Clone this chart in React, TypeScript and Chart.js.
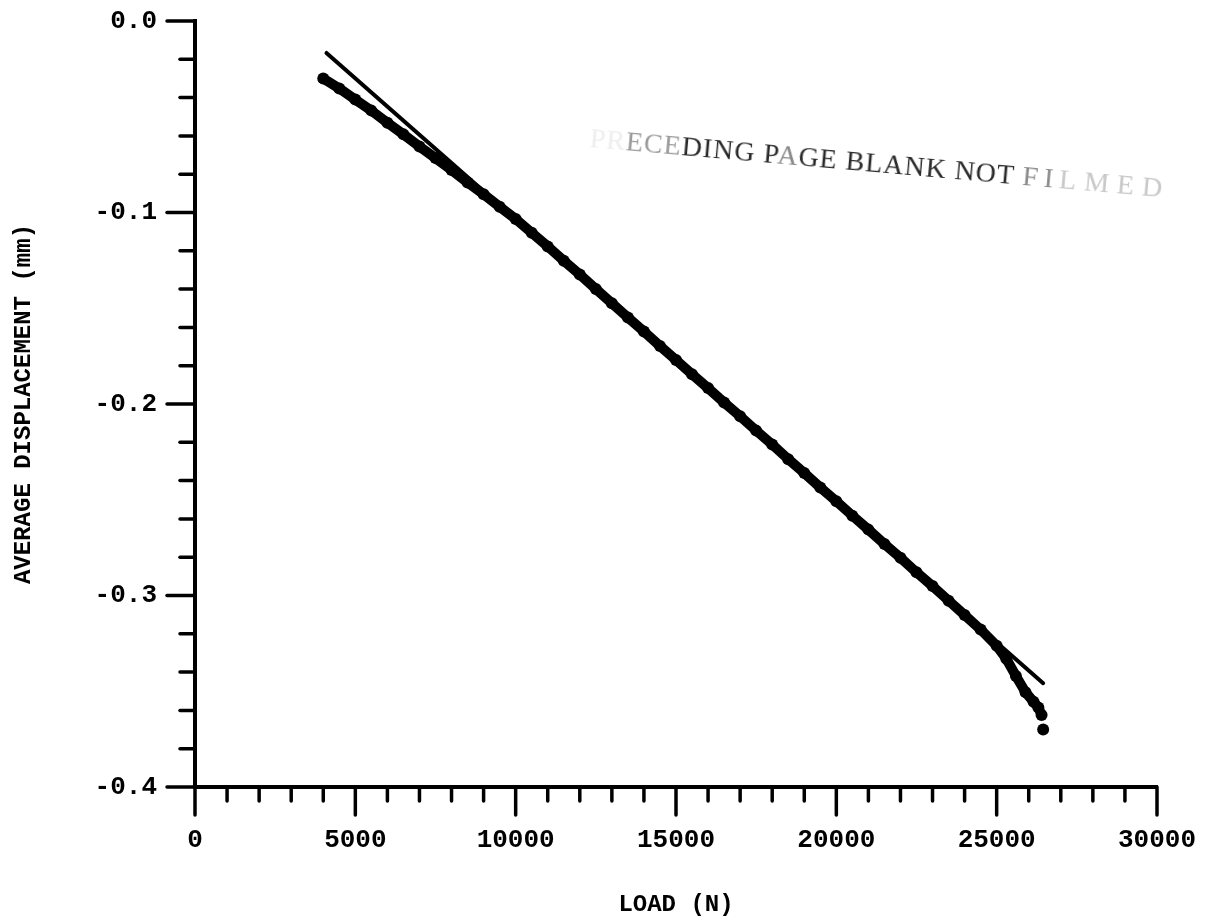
import { useEffect, useRef } from 'react';
import { Chart, registerables } from 'chart.js';

Chart.register(...registerables);

// Measured load / average displacement record
const measuredLoad = [
  4000, 4500, 5000, 5500, 6000, 6500, 7000, 7500, 8000, 8500, 9000, 9500,
  10000, 10500, 11000, 11500, 12000, 12500, 13000, 13500, 14000, 14500,
  15000, 15500, 16000, 16500, 17000, 17500, 18000, 18500, 19000, 19500,
  20000, 20500, 21000, 21500, 22000, 22500, 23000, 23500, 24000, 24500,
  25000, 25300, 25600, 25900, 26150, 26300, 26400, 26450,
];
const measuredDisp = [
  -0.03, -0.0352, -0.041, -0.0468, -0.0531, -0.0592, -0.0655, -0.0716,
  -0.0778, -0.0843, -0.0905, -0.097, -0.1034, -0.1106, -0.1177, -0.1252,
  -0.1324, -0.1399, -0.1474, -0.1548, -0.1622, -0.1697, -0.177, -0.1845,
  -0.1917, -0.1992, -0.2064, -0.2139, -0.2212, -0.2288, -0.236, -0.2436,
  -0.2508, -0.2583, -0.2656, -0.2731, -0.2803, -0.2879, -0.2951, -0.3027,
  -0.3102, -0.3178, -0.3262, -0.333, -0.342, -0.3505, -0.3555, -0.3585,
  -0.3624, -0.37,
];

// Straight-line fit through the record
const fitLoad = [4100, 26450];
const fitDisp = [-0.0167, -0.3458];

// Axis ticks and labels
const xTickLabels = ['0', '5000', '10000', '15000', '20000', '25000', '30000'];
const yTickLabels = ['-0.4', '-0.3', '-0.2', '-0.1', '0.0'];
const xMin = 0, xMax = 30000, xMajor = 5000, xMinor = 1000;
const yMin = -0.4, yMax = 0, yMajor = 0.1, yMinor = 0.02;

const MONO = '"Liberation Mono", "DejaVu Sans Mono", monospace';

// Outward tick marks: long at labelled values, short in between
const tickMarks = {
  id: 'tickMarks',
  afterDraw(chart: any) {
    const { ctx, scales } = chart;
    const xs = scales.x;
    const ys = scales.y;
    const axisY = ys.getPixelForValue(yMin);
    const axisX = xs.getPixelForValue(xMin);
    ctx.save();
    ctx.strokeStyle = '#000';
    ctx.lineWidth = 3.5;
    ctx.lineCap = 'round';
    const nx = Math.round((xMax - xMin) / xMinor);
    const xEvery = Math.round(xMajor / xMinor);
    for (let i = 0; i <= nx; i++) {
      const px = xs.getPixelForValue(xMin + i * xMinor);
      const len = i % xEvery === 0 ? 28 : 14;
      ctx.beginPath();
      ctx.moveTo(px, axisY);
      ctx.lineTo(px, axisY + len);
      ctx.stroke();
    }
    const ny = Math.round((yMax - yMin) / yMinor);
    const yEvery = Math.round(yMajor / yMinor);
    for (let i = 0; i <= ny; i++) {
      const py = ys.getPixelForValue(yMin + i * yMinor);
      const len = i % yEvery === 0 ? 28 : 15;
      ctx.beginPath();
      ctx.moveTo(axisX, py);
      ctx.lineTo(axisX - len, py);
      ctx.stroke();
    }
    ctx.restore();
  },
};

export default function App() {
  const canvasRef = useRef<HTMLCanvasElement | null>(null);

  useEffect(() => {
    const canvas = canvasRef.current;
    if (!canvas) return;
    const lastIdx = measuredLoad.length - 1;
    const chart = new Chart(canvas, {
      type: 'scatter',
      data: {
        datasets: [
          {
            label: 'Measured',
            data: measuredLoad.map((x, i) => ({ x, y: measuredDisp[i] })),
            showLine: true,
            borderColor: '#000',
            backgroundColor: '#000',
            borderWidth: 10,
            pointRadius: 6,
            pointBorderWidth: 0,
            pointHoverRadius: 0,
            borderCapStyle: 'round',
            borderJoinStyle: 'round',
            segment: {
              borderColor: (c: any) => (c.p1DataIndex === lastIdx ? 'rgba(0,0,0,0)' : '#000'),
            },
          },
          {
            label: 'Fit',
            data: fitLoad.map((x, i) => ({ x, y: fitDisp[i] })),
            showLine: true,
            borderColor: '#000',
            borderWidth: 4,
            pointRadius: 0,
            pointHoverRadius: 0,
            borderCapStyle: 'round',
          },
        ],
      },
      options: {
        responsive: false,
        animation: false,
        devicePixelRatio: 1,
        layout: { padding: { top: 21, right: 51, bottom: 0, left: 0 } },
        plugins: {
          legend: { display: false },
          tooltip: { enabled: false },
        },
        scales: {
          x: {
            type: 'linear',
            min: xMin,
            max: xMax,
            grid: {
              display: true,
              drawOnChartArea: false,
              drawTicks: true,
              tickLength: 33,
              tickColor: 'rgba(0,0,0,0)',
            },
            border: { display: true, color: '#000', width: 4 },
            ticks: {
              stepSize: xMajor,
              color: '#000',
              padding: 5,
              maxRotation: 0,
              font: { family: MONO, size: 26, weight: 'bold' },
              callback: (_v: any, i: number) => xTickLabels[i],
            },
            title: {
              display: true,
              text: 'LOAD (N)',
              color: '#000',
              font: { family: MONO, size: 24, weight: 'bold' },
              padding: { top: 0, bottom: 2 },
            },
            afterFit: (s: any) => {
              s.height = 134;
            },
          },
          y: {
            type: 'linear',
            min: yMin,
            max: yMax,
            grid: {
              display: true,
              drawOnChartArea: false,
              drawTicks: true,
              tickLength: 33,
              tickColor: 'rgba(0,0,0,0)',
            },
            border: { display: true, color: '#000', width: 4 },
            ticks: {
              stepSize: yMajor,
              color: '#000',
              padding: 5,
              font: { family: MONO, size: 26, weight: 'bold' },
              callback: (_v: any, i: number) => yTickLabels[i],
            },
            title: {
              display: true,
              text: 'AVERAGE DISPLACEMENT (mm)',
              color: '#000',
              font: { family: MONO, size: 24, weight: 'bold' },
              padding: { top: 10, bottom: 0 },
            },
            afterFit: (s: any) => {
              s.width = 195;
            },
          },
        },
      },
      plugins: [tickMarks],
    });
    return () => chart.destroy();
  }, []);

  return (
    <div style={{ position: 'absolute', left: 0, top: 0, width: 1208, height: 921, background: '#fff' }}>
      <canvas ref={canvasRef} width={1208} height={921} style={{ display: 'block' }} />
      <div
        style={{
          position: 'absolute',
          left: 590,
          top: 122,
          transform: 'rotate(5deg)',
          transformOrigin: 'left center',
          whiteSpace: 'nowrap',
          fontFamily: '"Liberation Serif", "DejaVu Serif", serif',
          fontSize: 28,
          lineHeight: '32px',
          letterSpacing: 1,
        }}
      >
        <span style={{ color: '#eeeeee' }}>PR</span>
        <span style={{ color: '#9a9a9a' }}>ECE</span>
        <span style={{ color: '#2a2a2a' }}>DING P</span>
        <span style={{ color: '#888' }}>A</span>
        <span style={{ color: '#2a2a2a' }}>GE BLANK NOT </span>
        <span style={{ color: '#8a8a8a', letterSpacing: 6 }}>FI</span>
        <span style={{ color: '#c8c8c8', letterSpacing: 8 }}>LMED</span>
      </div>
    </div>
  );
}
